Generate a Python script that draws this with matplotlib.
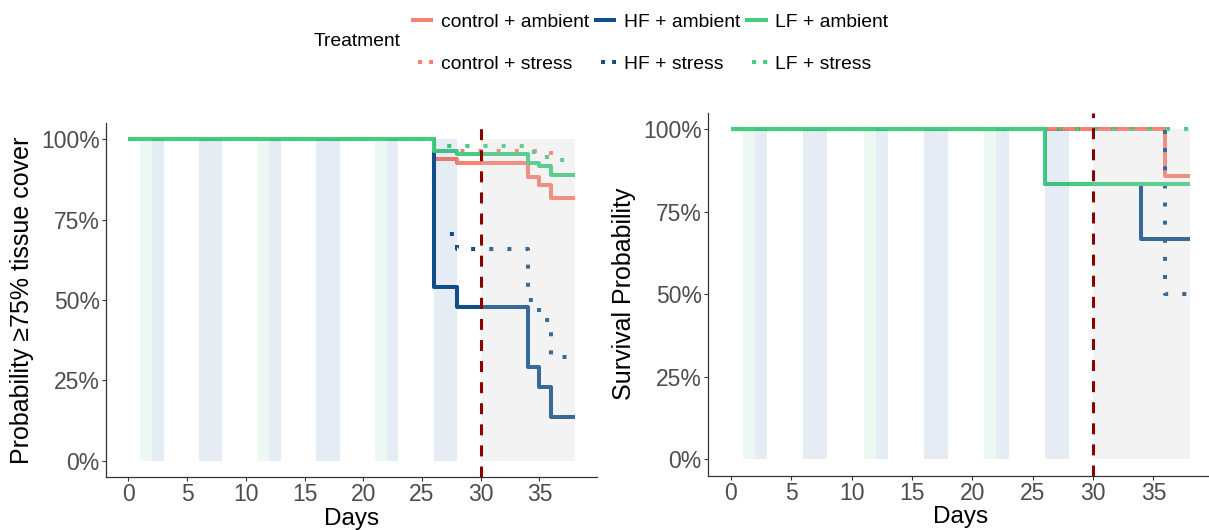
import matplotlib
matplotlib.use("Agg")
import matplotlib.pyplot as plt
from matplotlib.lines import Line2D
from matplotlib.ticker import PercentFormatter

# ── colours ────────────────────────────────────────────────────
CTRL = "#FA8072"    # salmon
HF = "#104E8B"      # dodgerblue4
LF = "#43CD80"      # seagreen3
CUTOFF = "#8B0000"
AXIS = "#333333"
TICKTXT = "#4D4D4D"

plt.rcParams["font.family"] = ["Liberation Sans", "DejaVu Sans"]

# ── data ───────────────────────────────────────────────────────
treatments = ["control + ambient", "control + stress", "HF + ambient",
              "HF + stress", "LF + ambient", "LF + stress"]
tr_colors = [CTRL, CTRL, HF, HF, LF, LF]
tr_dotted = [False, True, False, True, False, True]

# panel A: probability of >=75% tissue cover (step curves)
cover_ctrl_amb_t = [0, 26, 28, 34, 35, 36, 38]
cover_ctrl_amb_s = [1.0, 0.937, 0.926, 0.881, 0.856, 0.816, 0.816]
cover_ctrl_str_t = [0, 26, 36, 38]
cover_ctrl_str_s = [1.0, 0.963, 0.889, 0.889]
cover_hf_amb_t = [0, 26, 28, 34, 35, 36, 38]
cover_hf_amb_s = [1.0, 0.541, 0.479, 0.292, 0.230, 0.137, 0.137]
cover_hf_str_t = [0, 26, 28, 34, 35, 36, 38]
cover_hf_str_s = [1.0, 0.705, 0.659, 0.500, 0.437, 0.322, 0.322]
cover_lf_amb_t = [0, 26, 28, 34, 35, 36, 38]
cover_lf_amb_s = [1.0, 0.963, 0.955, 0.926, 0.917, 0.889, 0.889]
cover_lf_str_t = [0, 26, 34, 35, 36, 38]
cover_lf_str_s = [1.0, 0.978, 0.959, 0.943, 0.935, 0.935]

# panel B: survival probability
surv_ctrl_amb_t = [0, 36, 38]
surv_ctrl_amb_s = [1.0, 0.857, 0.857]
surv_ctrl_str_t = [0, 38]
surv_ctrl_str_s = [1.0, 1.0]
surv_hf_amb_t = [0, 26, 34, 38]
surv_hf_amb_s = [1.0, 0.833, 0.667, 0.667]
surv_hf_str_t = [0, 36, 38]
surv_hf_str_s = [1.0, 0.5, 0.5]
surv_lf_amb_t = [0, 26, 38]
surv_lf_amb_s = [1.0, 0.833, 0.833]
surv_lf_str_t = [0, 38]
surv_lf_str_s = [1.0, 1.0]

# feeding / exposure windows (days)
lf_windows = [(1, 2), (11, 12), (21, 22)]
hf_windows = [(2, 3), (6, 8), (12, 13), (16, 18), (22, 23), (26, 28)]
stress_window = (30, 38)
cutoff_day = 30

x_ticks = [0, 5, 10, 15, 20, 25, 30, 35]
y_ticks = [0, 0.25, 0.5, 0.75, 1.0]

cover_curves = [(cover_ctrl_amb_t, cover_ctrl_amb_s), (cover_ctrl_str_t, cover_ctrl_str_s),
                (cover_hf_amb_t, cover_hf_amb_s), (cover_hf_str_t, cover_hf_str_s),
                (cover_lf_amb_t, cover_lf_amb_s), (cover_lf_str_t, cover_lf_str_s)]
surv_curves = [(surv_ctrl_amb_t, surv_ctrl_amb_s), (surv_ctrl_str_t, surv_ctrl_str_s),
               (surv_hf_amb_t, surv_hf_amb_s), (surv_hf_str_t, surv_hf_str_s),
               (surv_lf_amb_t, surv_lf_amb_s), (surv_lf_str_t, surv_lf_str_s)]

LW = 2.9
DOTS = (0, (1, 3.5))


def draw_panel(ax, curves, ylabel):
    for (t, s), col, dotted in zip(curves, tr_colors, tr_dotted):
        ax.step(t, s, where="post", color=col, lw=LW,
                linestyle=DOTS if dotted else "-", zorder=2,
                solid_capstyle="butt", dash_capstyle="butt")
    # shaded windows drawn over the curves
    for x0, x1 in lf_windows:
        ax.fill_between([x0, x1], 0, 1, color=LF, alpha=0.1, lw=0, zorder=3)
    for x0, x1 in hf_windows:
        ax.fill_between([x0, x1], 0, 1, color=HF, alpha=0.1, lw=0, zorder=3)
    ax.fill_between(list(stress_window), 0, 1, color="#CCCCCC", alpha=0.22, lw=0, zorder=3)
    ax.axvline(cutoff_day, color=CUTOFF, lw=2.2, linestyle=(0, (3.6, 3.3)), zorder=4)

    ax.set_xlim(-1.9, 39.9)
    ax.set_ylim(-0.05, 1.05)
    ax.set_xticks(x_ticks)
    ax.set_yticks(y_ticks)
    ax.yaxis.set_major_formatter(PercentFormatter(1.0, decimals=0))
    for sp in ["top", "right"]:
        ax.spines[sp].set_visible(False)
    for sp in ["left", "bottom"]:
        ax.spines[sp].set_color(AXIS)
        ax.spines[sp].set_linewidth(0.9)
    ax.tick_params(axis="both", length=3, width=0.8, color=AXIS,
                   labelcolor=TICKTXT, labelsize=16.5)
    ax.tick_params(axis="y", pad=1.5)
    ax.tick_params(axis="x", pad=1.5)
    ax.set_xlabel("Days", fontsize=17.5, color="black", labelpad=1)
    ax.set_ylabel(ylabel, fontsize=18, color="black", labelpad=5)


fig = plt.figure(figsize=(12.09, 5.30), dpi=100)
ax1 = fig.add_axes([106 / 1209, 53 / 530, 491 / 1209, 354 / 530])
ax2 = fig.add_axes([708 / 1209, 54.3 / 530, 504.5 / 1209, 362.9 / 530])

draw_panel(ax1, cover_curves, "Probability \u226575% tissue cover")
draw_panel(ax2, surv_curves, "Survival Probability")

# legend: title on the left, 2 rows x 3 columns
handles = []
for col, dotted in zip(tr_colors, tr_dotted):
    if dotted:
        handles.append(Line2D([], [], color=col, lw=LW, linestyle=(1, (1, 1.75)),
                              dash_capstyle="butt"))
    else:
        handles.append(Line2D([], [], color=col, lw=LW, solid_capstyle="butt"))

fig.legend(handles, treatments, ncol=3, loc="center left",
           bbox_to_anchor=(411 / 1209, 1 - 43 / 530), bbox_transform=fig.transFigure,
           frameon=False, fontsize=13.9, borderpad=0, borderaxespad=0,
           handlelength=1.16, handletextpad=0.4, columnspacing=0.25,
           labelspacing=1.25)
fig.text(314 / 1209, 1 - 42 / 530, "Treatment", fontsize=13.9, va="center", ha="left")

fig.savefig("out.png", dpi=100, facecolor="white")
